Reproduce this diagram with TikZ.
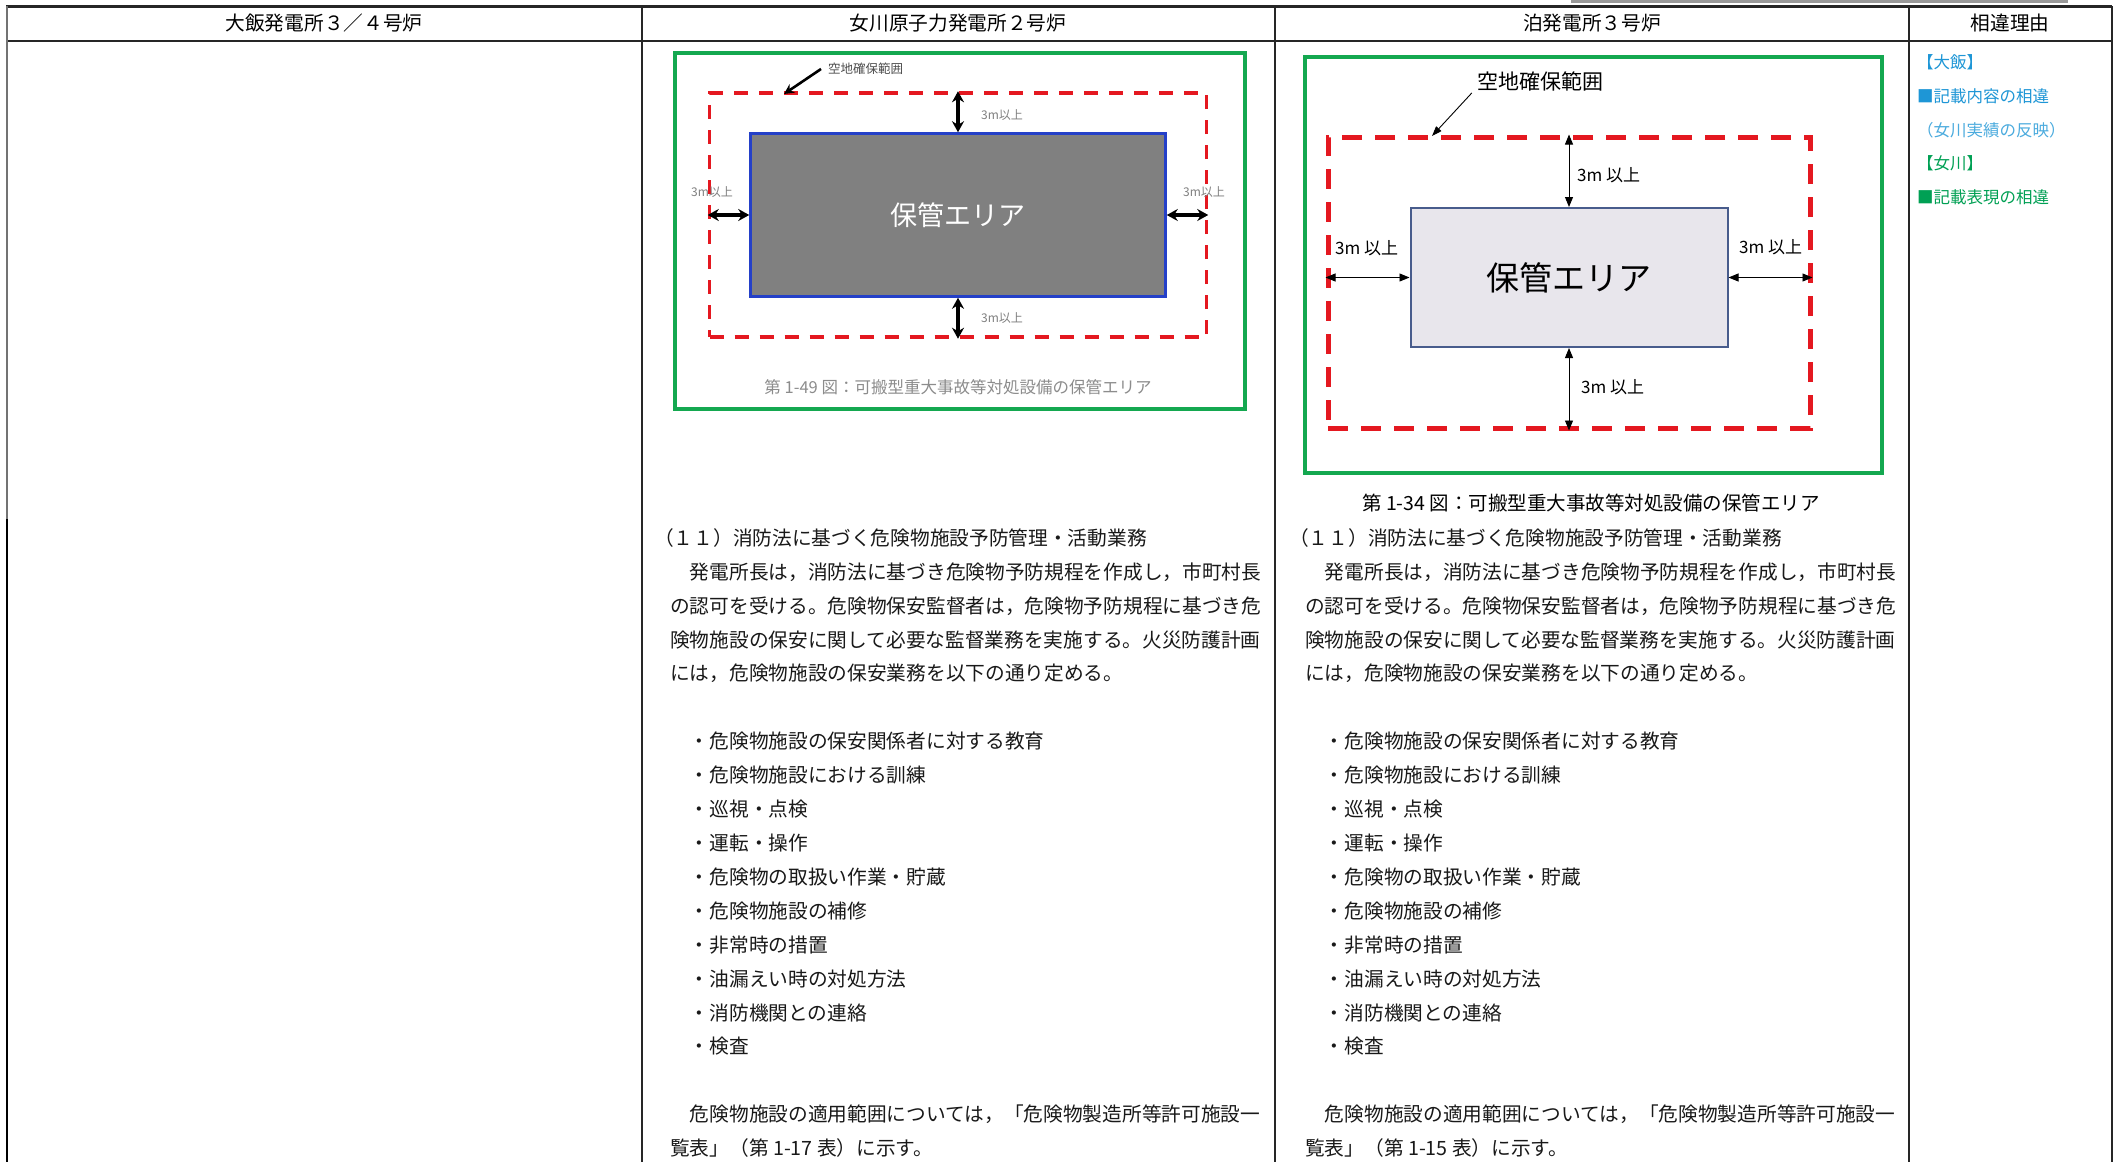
\documentclass[tikz,border=0pt]{standalone}
\usepackage{fontspec}
\setmainfont{Noto Sans CJK JP}
\usetikzlibrary{arrows.meta}

\definecolor{framegreen}{RGB}{20,168,80}
\definecolor{zonered}{RGB}{228,24,32}
\definecolor{areablue}{RGB}{36,64,200}
\definecolor{areagray}{RGB}{128,128,128}
\definecolor{tareafill}{RGB}{232,230,236}
\definecolor{tareaedge}{RGB}{72,92,140}
\definecolor{reasonblue}{RGB}{30,150,214}
\definecolor{reasongreen}{RGB}{0,160,84}

\begin{document}
\begin{tikzpicture}[x=1pt, y=-1pt,
        rule/.style = {line width=1.2pt, draw=black!85},
        head/.style = {inner sep=0pt, font=\fontsize{19.7}{22}\selectfont},
        txt/.style = {inner sep=0pt, anchor=west, text=black!90,
            font=\fontsize{19.7}{22}\selectfont},
        reason/.style = {inner sep=0pt, anchor=west,
            font=\fontsize{16.5}{19}\selectfont},
        frame/.style = {draw=framegreen, line width=4.5pt, inner sep=0pt},
        ozone/.style = {draw=zonered, line width=3.5pt, inner sep=0pt,
            dash pattern=on 14pt off 11pt,
            minimum width=497pt, minimum height=244pt},
        oarea/.style = {draw=areablue, line width=2.5pt, fill=areagray,
            text=white, inner sep=0pt, minimum width=415pt, minimum height=163pt,
            font=\fontsize{27}{30}\selectfont},
        tzone/.style = {draw=zonered, line width=5pt, inner sep=0pt,
            dash pattern=on 20pt off 13pt,
            minimum width=482pt, minimum height=291pt},
        tarea/.style = {draw=tareaedge, line width=2pt, fill=tareafill,
            inner sep=0pt, minimum width=317pt, minimum height=139pt,
            font=\fontsize{33}{36}\selectfont},
        odim/.style = {<->, >={Stealth[length=11pt,width=12pt]}, line width=3.2pt},
        tdim/.style = {<->, >={Triangle[length=10pt,width=8pt]}, line width=0.9pt},
        optr/.style = {->, >={Stealth[length=10pt,width=10pt]}, line width=2.6pt},
        tptr/.style = {->, >={Triangle[length=10pt,width=7pt]}, line width=0.9pt},
        olab/.style = {inner sep=0pt, text=black!50, font=\fontsize{12}{14}\selectfont},
        tlab/.style = {inner sep=0pt, font=\fontsize{17}{19}\selectfont}]

    \path[fill=white] (0,0) rectangle (2123,1162);
    \useasboundingbox (0,0) rectangle (2123,1162);

    % table rules
    \draw[line width=3pt, black!40] (1571,1.5) -- (2068,1.5);
    \draw[rule, line width=3pt] (6,6) -- (2112,6);
    \draw[rule] (6,41) -- (2112,41);
    \foreach \cx in {642,1275,1909,2112}
        \draw[rule] (\cx,6) -- (\cx,1162);
    \draw[line width=1.3pt, black!55] (7,6) -- (7,519);
    \draw[line width=2.6pt, black] (7,519) -- (7,1162);

    % header
    \node[head] (h1) at (324,23) {大飯発電所３／４号炉};
    \node[head] (h2) at (958,23) {女川原子力発電所２号炉};
    \node[head] (h3) at (1592,23) {泊発電所３号炉};
    \node[head] (h4) at (2010,23) {相違理由};

    % reasons
    \node[reason, text=reasonblue] (r1) at (1917,62) {【大飯】};
    \node[reason, text=reasonblue] (r2) at (1917,96) {■記載内容の相違};
    \node[reason, text=reasonblue!80] (r3) at (1917,130) {（女川実績の反映）};
    \node[reason, text=reasongreen] (r4) at (1917,163) {【女川】};
    \node[reason, text=reasongreen] (r5) at (1917,197) {■記載表現の相違};

    % Onagawa figure
    \node[frame, minimum width=570pt, minimum height=356pt] (oframe) at (960,231) {};
    \node[ozone] (ozone) at (958,215) {};
    \node[oarea] (oarea) at (958,215) {保管エリア};
    \draw[odim] (oarea.north) -- (ozone.north);
    \draw[odim] (oarea.south) -- (ozone.south);
    \draw[odim] (oarea.west) -- (ozone.west);
    \draw[odim] (oarea.east) -- (ozone.east);
    \node[olab, anchor=west] (otop) at (981,115) {3m以上};
    \node[olab, anchor=west] (obot) at (981,318) {3m以上};
    \node[olab] (oleft) at (712,192) {3m以上};
    \node[olab] (oright) at (1204,192) {3m以上};
    \node[olab, anchor=west, text=black!70, font=\fontsize{12.5}{14}\selectfont]
        (ohint) at (828,69) {空地確保範囲};
    \coordinate (otip) at (784,94);
    \draw[optr] ([xshift=-7pt]ohint.west) -- (otip);
    \node[olab, text=black!45, font=\fontsize{16.5}{19}\selectfont]
        (ocap) at (958,387) {第 1-49 図：可搬型重大事故等対処設備の保管エリア};

    % Tomari figure
    \node[frame, minimum width=577pt, minimum height=416pt] (tframe) at (1593.5,265) {};
    \node[tzone] (tzone) at (1569,282.5) {};
    \node[tarea] (tarea) at (1569,277.5) {保管エリア};
    \draw[tdim] (tarea.north) -- (tarea.north |- tzone.north);
    \draw[tdim] (tarea.south) -- (tarea.south |- tzone.south);
    \draw[tdim] (tarea.west) -- (tarea.west -| tzone.west);
    \draw[tdim] (tarea.east) -- (tarea.east -| tzone.east);
    \node[tlab, anchor=west] (ttop) at (1577,175) {3m 以上};
    \node[tlab, anchor=west] (tbot) at (1581,387) {3m 以上};
    \node[tlab, anchor=west] (tleft) at (1335,248) {3m 以上};
    \node[tlab, anchor=west] (tright) at (1739,247) {3m 以上};
    \node[tlab, font=\fontsize{21}{24}\selectfont] (thint) at (1540,81) {空地確保範囲};
    \coordinate (ttip) at (1432,136);
    \draw[tptr] ([xshift=-5pt,yshift=-2pt]thint.south west) -- (ttip);
    \node[tlab, font=\fontsize{19.5}{22}\selectfont]
        (tcap) at (1591,503) {第 1-34 図：可搬型重大事故等対処設備の保管エリア};

    % body text, both columns
    \foreach \cx/\tb/\tag in {670/o/17, 1305/t/15} {
        \node[txt] (\tb sec) at (\cx-16,538) {（１１）消防法に基づく危険物施設予防管理・活動業務};
        \node[txt] (\tb p1) at (\cx+19.7,571.9) {発電所長は，消防法に基づき危険物予防規程を作成し，市町村長};
        \node[txt] (\tb p2) at (\cx,605.8) {の認可を受ける。危険物保安監督者は，危険物予防規程に基づき危};
        \node[txt] (\tb p3) at (\cx,639.7) {険物施設の保安に関して必要な監督業務を実施する。火災防護計画};
        \node[txt] (\tb p4) at (\cx,673.6) {には，危険物施設の保安業務を以下の通り定める。};
        \foreach \duty [count=\i from 6] in {危険物施設の保安関係者に対する教育,
                危険物施設における訓練, 巡視・点検, 運転・操作,
                危険物の取扱い作業・貯蔵, 危険物施設の補修, 非常時の措置,
                油漏えい時の対処方法, 消防機関との連絡, 検査}
            \node[txt] (\tb b\i) at (\cx+19.7,538+33.9*\i) {・\duty};
        \node[txt] (\tb q1) at (\cx+19.7,1114.3) {危険物施設の適用範囲については，「危険物製造所等許可施設一};
        \node[txt] (\tb q2) at (\cx,1148.2) {覧表」（第 1-\tag{} 表）に示す。};
    }
\end{tikzpicture}
\end{document}
